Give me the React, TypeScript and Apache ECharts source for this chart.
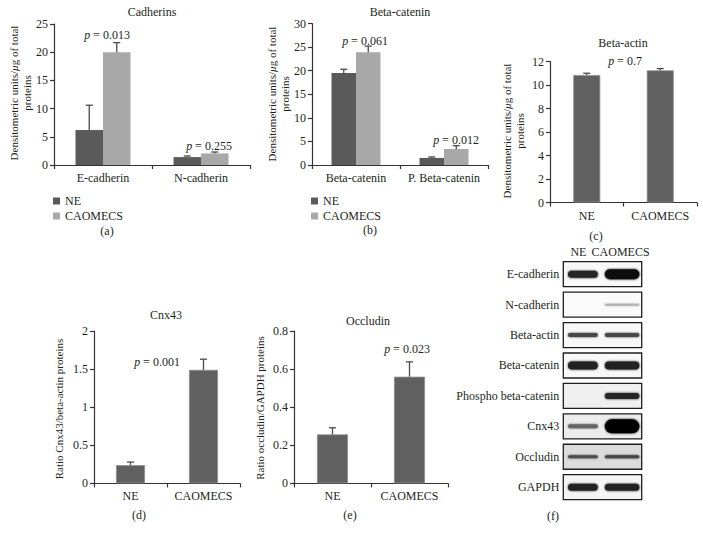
import React, { useEffect, useRef } from 'react';
import * as echarts from 'echarts';

// ---------- data ----------
const cadCategories = ['E-cadherin', 'N-cadherin'];
const cadNE = [6.2, 1.4];
const cadNEErr = [10.6, 1.6];
const cadCAO = [20.0, 2.05];
const cadCAOErr = [21.7, 2.3];
const cadP = ['0.013', '0.255'];

const catCategories = ['Beta-catenin', 'P. Beta-catenin'];
const catNE = [19.5, 1.5];
const catNEErr = [20.3, 1.7];
const catCAO = [23.9, 3.4];
const catCAOErr = [25.2, 4.1];
const catP = ['0.061', '0.012'];

const groups = ['NE', 'CAOMECS'];
const actinValues = [10.85, 11.25];
const actinErr = [11.0, 11.4];
const actinP = '0.7';
const cnxValues = [0.24, 1.49];
const cnxErr = [0.28, 1.63];
const cnxP = '0.001';
const occValues = [0.257, 0.56];
const occErr = [0.292, 0.638];
const occP = '0.023';

const blotRows = ['E-cadherin', 'N-cadherin', 'Beta-actin', 'Beta-catenin', 'Phospho beta-catenin', 'Cnx43', 'Occludin', 'GAPDH'];
const blotNEIntensity = [0.85, 0, 0.72, 0.86, 0, 0.6, 0.7, 0.86];
const blotCAOIntensity = [0.95, 0.3, 0.72, 0.86, 0.85, 1.0, 0.72, 0.86];
const blotNEThickness = [7, 0, 4, 8, 0, 4, 3, 7];
const blotCAOThickness = [10, 2, 4, 8, 6, 14, 3, 7];

// ---------- styles ----------
const FONT = 'Liberation Serif, DejaVu Serif, serif';
const TXT = '#231f20';
const AX = '#333';
const DARK = '#5a5a5a';
const LIGHT = '#a8a8a8';
const SINGLE = '#606060';
const blotBg = ['#f8f8f8', '#fafafa', '#f7f7f7', '#f8f8f8', '#f0f0f0', '#ececec', '#dcdcdc', '#f5f5f5'];

function xAxisCat(gridIndex: number, data: string[]) {
  return {
    gridIndex, type: 'category', data,
    axisLine: { show: true, lineStyle: { color: AX, width: 1.2 } },
    axisTick: { show: true, length: 4, lineStyle: { color: AX, width: 1.2 } },
    axisLabel: { fontFamily: FONT, fontSize: 12, color: TXT, margin: 7, interval: 0 },
    splitLine: { show: false },
  };
}
function yAxisVal(gridIndex: number, max: number, interval: number) {
  return {
    gridIndex, type: 'value', min: 0, max, interval,
    axisLine: { show: true, lineStyle: { color: AX, width: 1.2 } },
    axisTick: { show: true, length: 4, lineStyle: { color: AX, width: 1.2 } },
    axisLabel: { fontFamily: FONT, fontSize: 12, color: TXT, margin: 6 },
    splitLine: { show: false },
  };
}
function errSeries(idx: number, vals: number[], errs: number[], offset: number, color: string) {
  return {
    type: 'custom', xAxisIndex: idx, yAxisIndex: idx, z: 5, silent: true,
    data: vals.map((v, i) => [i, v, errs[i]]),
    renderItem: (params: any, api: any) => {
      const base = api.coord([api.value(0), api.value(1)]);
      const top = api.coord([api.value(0), api.value(2)]);
      const x = base[0] + offset;
      return {
        type: 'group',
        children: [
          { type: 'line', shape: { x1: x, y1: base[1], x2: x, y2: top[1] }, style: { stroke: color, lineWidth: 1.3 } },
          { type: 'line', shape: { x1: x - 3.5, y1: top[1], x2: x + 3.5, y2: top[1] }, style: { stroke: color, lineWidth: 1.3 } },
        ],
      };
    },
  };
}
function singleBar(idx: number, name: string, vals: number[], width: number) {
  return {
    type: 'bar', name, xAxisIndex: idx, yAxisIndex: idx, barWidth: width,
    itemStyle: { color: SINGLE, borderColor: '#8e8e8e', borderWidth: 0.8 },
    data: vals,
  };
}
function txt(x: number, y: number, text: string, size = 12, extra: any = {}) {
  return {
    type: 'text', x, y, silent: true,
    style: {
      text, fontFamily: FONT, fontSize: size, fill: TXT, align: 'center', verticalAlign: 'middle', lineHeight: size,
      rich: { i: { fontStyle: 'italic', fontFamily: FONT, fontSize: size, fill: TXT, lineHeight: size } },
      ...extra,
    },
  };
}
function vtxt(x: number, y: number, text: string) {
  return {
    type: 'text', x, y, rotation: Math.PI / 2, silent: true,
    style: {
      text, fontFamily: FONT, fontSize: 11, fill: TXT, align: 'center', verticalAlign: 'middle', lineHeight: 13,
      rich: { i: { fontStyle: 'italic', fontFamily: FONT, fontSize: 11, fill: TXT, lineHeight: 13 } },
    },
  };
}

export default function App() {
  const ref = useRef<HTMLDivElement>(null);
  useEffect(() => {
    if (!ref.current) return;
    const chart = echarts.init(ref.current, null, { renderer: 'svg' });
    const blotData: any[] = [];
    blotRows.forEach((_, r) => {
      blotData.push([0, r, blotNEIntensity[r], blotNEThickness[r]]);
      blotData.push([1, r, blotCAOIntensity[r], blotCAOThickness[r]]);
    });
    const legendBase = {
      data: ['NE', 'CAOMECS'], orient: 'vertical', top: 195, itemWidth: 7, itemHeight: 7, itemGap: 3,
      icon: 'rect', selectedMode: false, padding: 0,
      textStyle: { fontFamily: FONT, fontSize: 12, color: TXT, lineHeight: 12 },
    };
    const option: any = {
      animation: false,
      grid: [
        { left: 54, top: 24, width: 196, height: 141 },
        { left: 312, top: 23.5, width: 176, height: 141.5 },
        { left: 550, top: 61.5, width: 147, height: 141 },
        { left: 94, top: 331, width: 146, height: 152.4 },
        { left: 294, top: 331, width: 154, height: 152.4 },
        { left: 563.3, top: 259, width: 78.4, height: 243.4 },
      ],
      xAxis: [
        xAxisCat(0, cadCategories),
        xAxisCat(1, catCategories),
        xAxisCat(2, groups),
        xAxisCat(3, groups),
        xAxisCat(4, groups),
        {
          gridIndex: 5, type: 'category', data: groups, position: 'top',
          axisLine: { show: false }, axisTick: { show: false },
          axisLabel: {
            fontFamily: FONT, fontSize: 12, color: TXT, margin: 1, interval: 0, lineHeight: 12,
            formatter: (v: string) => (v === 'NE' ? `{a|${v}}` : `{b|${v}}`),
            rich: {
              a: { fontFamily: FONT, fontSize: 12, color: TXT, lineHeight: 12, padding: [0, 9, 0, 0] },
              b: { fontFamily: FONT, fontSize: 12, color: TXT, lineHeight: 12, padding: [0, 3, 0, 0] },
            },
          },
        },
      ],
      yAxis: [
        yAxisVal(0, 25, 5),
        yAxisVal(1, 30, 5),
        yAxisVal(2, 12, 2),
        yAxisVal(3, 2, 0.5),
        yAxisVal(4, 0.8, 0.2),
        {
          gridIndex: 5, type: 'category', data: blotRows, inverse: true,
          axisLine: { show: false }, axisTick: { show: false },
          axisLabel: { fontFamily: FONT, fontSize: 12, color: TXT, margin: 4, interval: 0 },
        },
      ],
      legend: [
        { ...legendBase, left: 53 },
        { ...legendBase, left: 311 },
      ],
      series: [
        { type: 'bar', name: 'NE', xAxisIndex: 0, yAxisIndex: 0, barWidth: 27.5, barGap: '0%', itemStyle: { color: DARK }, data: cadNE },
        { type: 'bar', name: 'CAOMECS', xAxisIndex: 0, yAxisIndex: 0, barWidth: 27.5, barGap: '0%', itemStyle: { color: LIGHT }, data: cadCAO },
        errSeries(0, cadNE, cadNEErr, -13.75, '#4a4a4a'),
        errSeries(0, cadCAO, cadCAOErr, 13.75, '#4a4a4a'),
        { type: 'bar', name: 'NE', xAxisIndex: 1, yAxisIndex: 1, barWidth: 24.5, barGap: '0%', itemStyle: { color: DARK }, data: catNE },
        { type: 'bar', name: 'CAOMECS', xAxisIndex: 1, yAxisIndex: 1, barWidth: 24.5, barGap: '0%', itemStyle: { color: LIGHT }, data: catCAO },
        errSeries(1, catNE, catNEErr, -12.25, '#4a4a4a'),
        errSeries(1, catCAO, catCAOErr, 12.25, '#4a4a4a'),
        singleBar(2, 'Beta-actin', actinValues, 27),
        errSeries(2, actinValues, actinErr, 0, '#4a4a4a'),
        singleBar(3, 'Cnx43', cnxValues, 29),
        errSeries(3, cnxValues, cnxErr, 0, '#4a4a4a'),
        singleBar(4, 'Occludin', occValues, 31),
        errSeries(4, occValues, occErr, 0, '#4a4a4a'),
        {
          type: 'custom', xAxisIndex: 5, yAxisIndex: 5, z: 1, silent: true,
          data: blotRows.map((_, r) => [0, r]),
          renderItem: (params: any, api: any) => {
            const c = api.coord([0, api.value(1)]);
            const cs = params.coordSys;
            return {
              type: 'rect',
              shape: { x: cs.x, y: c[1] - 12.5, width: cs.width, height: 25 },
              style: { fill: blotBg[params.dataIndex], stroke: '#1e1e1e', lineWidth: 1.3 },
            };
          },
        },
        {
          type: 'custom', xAxisIndex: 5, yAxisIndex: 5, z: 3, silent: true,
          data: blotData,
          renderItem: (params: any, api: any) => {
            const lane = api.value(0);
            const intensity = api.value(2);
            const thick = api.value(3);
            if (!intensity || !thick) return { type: 'group', children: [] };
            const c = api.coord([lane, api.value(1)]);
            const laneW = api.size([1, 0])[0];
            const w = laneW * (lane === 0 ? 0.76 : 0.88);
            const g = Math.round(255 * (1 - intensity));
            const col = `rgb(${g},${g},${g})`;
            return {
              type: 'rect',
              shape: { x: c[0] - w / 2, y: c[1] - thick / 2, width: w, height: thick, r: thick / 2 },
              style: { fill: col, shadowBlur: 2, shadowColor: col },
            };
          },
        },
      ],
      graphic: [
        txt(152, 12, 'Cadherins', 12),
        txt(107, 35, `{i|p} = ${cadP[0]}`),
        txt(209, 146, `{i|p} = ${cadP[1]}`),
        vtxt(20.5, 93, 'Densitometric units/{i|μ}g of total\nproteins'),
        txt(107, 231, '(a)', 12),

        txt(400, 12, 'Beta-catenin', 12),
        txt(365, 41, `{i|p} = ${catP[0]}`),
        txt(456, 140, `{i|p} = ${catP[1]}`),
        vtxt(278, 94, 'Densitometric units/{i|μ}g of total\nproteins'),
        txt(370, 230, '(b)', 12),

        txt(623, 42.5, 'Beta-actin', 12),
        txt(625, 61, `{i|p} = ${actinP}`),
        vtxt(513, 131, 'Densitometric units/{i|μ}g of total\nproteins'),
        txt(596, 236, '(c)', 12),

        txt(166, 315, 'Cnx43', 12),
        txt(157, 362, `{i|p} = ${cnxP}`),
        vtxt(58.5, 409, 'Ratio Cnx43/beta-actin proteins'),
        txt(139, 515, '(d)', 12),

        txt(368, 321, 'Occludin', 12),
        txt(407, 349, `{i|p} = ${occP}`),
        vtxt(260, 408, 'Ratio occludin/GAPDH proteins'),
        txt(350, 515, '(e)', 12),

        txt(553, 516, '(f)', 12),
      ],
    };
    chart.setOption(option);
    return () => chart.dispose();
  }, []);
  return <div ref={ref} style={{ position: 'fixed', left: 0, top: 0, width: 703, height: 537, background: '#fff' }} />;
}
